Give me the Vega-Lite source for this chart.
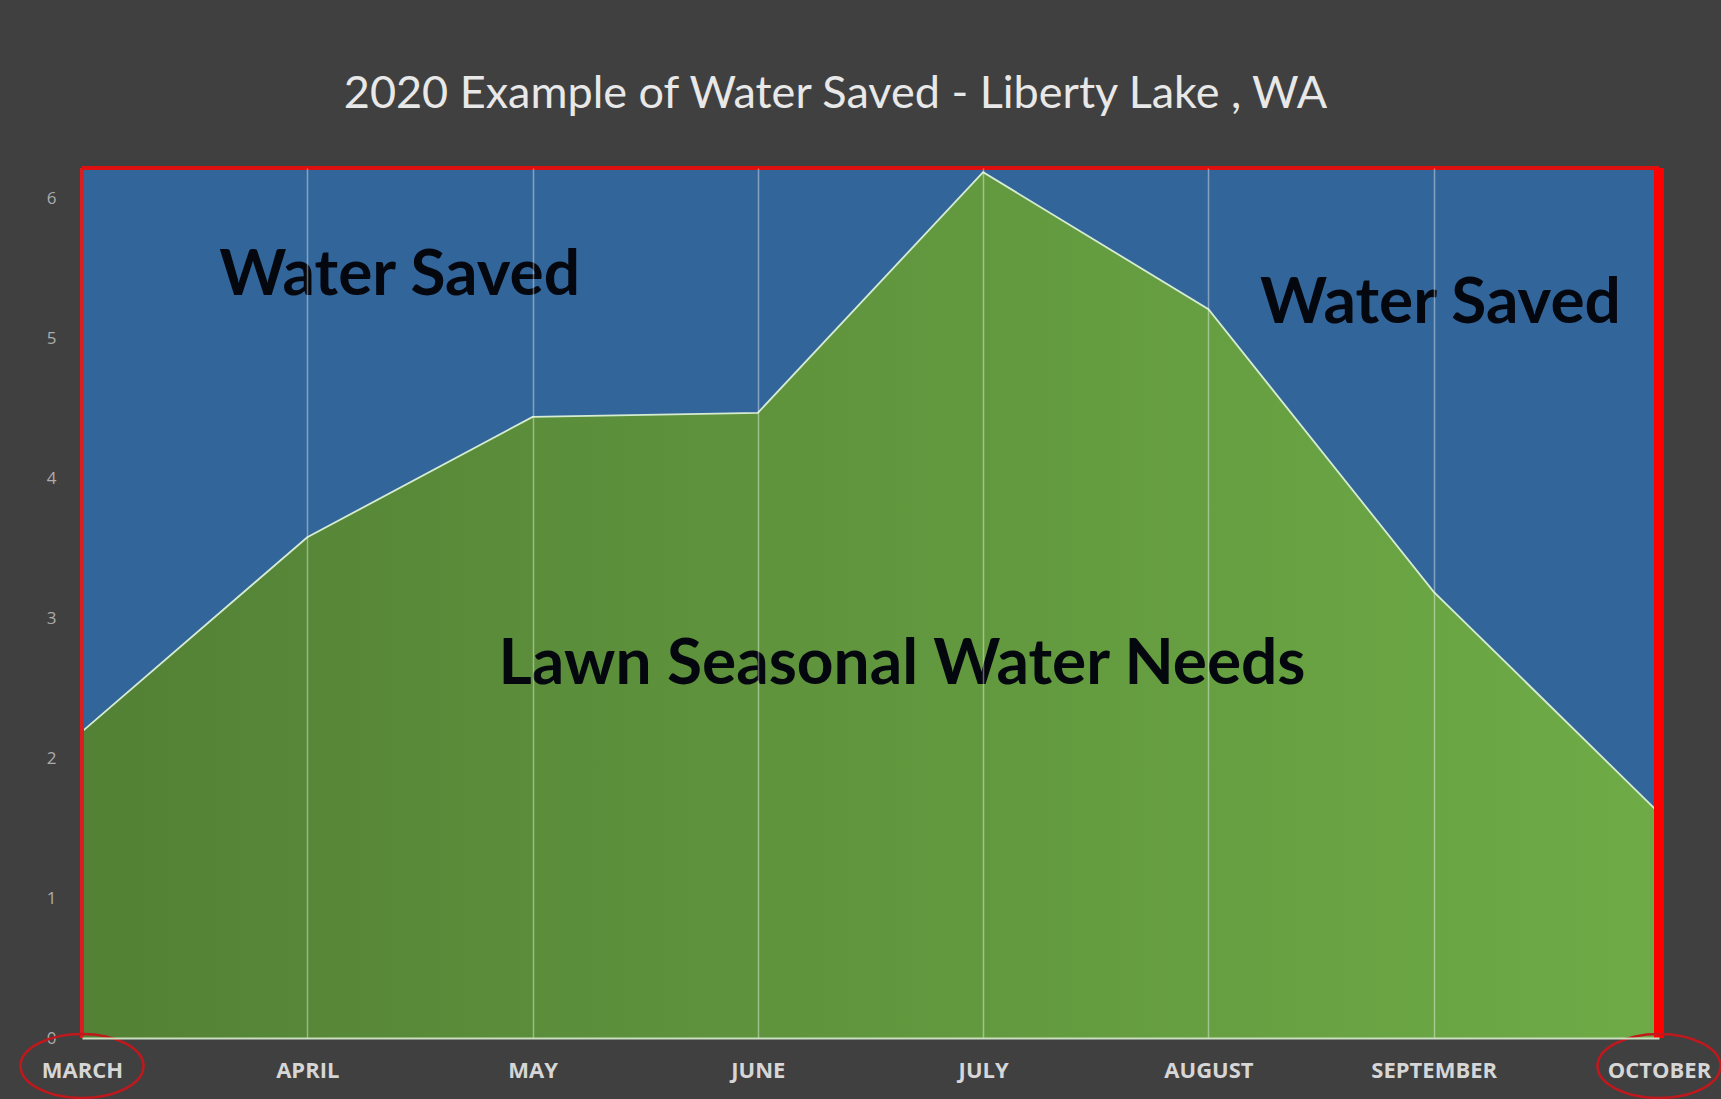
{
  "$schema": "https://vega.github.io/schema/vega-lite/v6.json",
  "autosize": {"type": "none"},
  "width": 1577,
  "height": 870,
  "padding": {"left": 82, "top": 168, "right": 62, "bottom": 61},
  "background": "#404040",
  "view": {"fill": "#32669b", "stroke": null},
  "title": {
    "text": "2020 Example of Water Saved - Liberty Lake , WA",
    "font": "Lato",
    "fontSize": 45,
    "fontWeight": "normal",
    "color": "#e8e8e8",
    "anchor": "middle",
    "frame": "group",
    "dx": -35,
    "offset": 46
  },
  "datasets": {
    "needs": [
      {"idx": 0, "month": "MARCH", "value": 2.19},
      {"idx": 1, "month": "APRIL", "value": 3.58},
      {"idx": 2, "month": "MAY", "value": 4.44},
      {"idx": 3, "month": "JUNE", "value": 4.47},
      {"idx": 4, "month": "JULY", "value": 6.19},
      {"idx": 5, "month": "AUGUST", "value": 5.21},
      {"idx": 6, "month": "SEPTEMBER", "value": 3.19},
      {"idx": 7, "month": "OCTOBER", "value": 1.61}
    ],
    "labels": [
      {"label": "Water Saved", "x": 1.41, "y": 5.45},
      {"label": "Water Saved", "x": 6.03, "y": 5.25},
      {"label": "Lawn Seasonal Water Needs", "x": 3.64, "y": 2.67}
    ],
    "one": [{}]
  },
  "layer": [
    {
      "data": {"name": "needs"},
      "mark": {
        "type": "area",
        "opacity": 1,
        "color": {
          "gradient": "linear",
          "x1": 0, "y1": 0, "x2": 1, "y2": 0,
          "stops": [
            {"offset": 0, "color": "#538135"},
            {"offset": 1, "color": "#6eab46"}
          ]
        },
        "line": {"color": "#d6ecd2", "strokeWidth": 1.8}
      },
      "encoding": {
        "x": {
          "field": "idx",
          "type": "quantitative",
          "scale": {"domain": [0, 7], "nice": false, "zero": false},
          "axis": {
            "title": null,
            "values": [0, 1, 2, 3, 4, 5, 6, 7],
            "labelExpr": "['MARCH','APRIL','MAY','JUNE','JULY','AUGUST','SEPTEMBER','OCTOBER'][datum.value]",
            "grid": true,
            "gridColor": "#ffffff",
            "gridOpacity": {"condition": {"test": "datum.value == 0 || datum.value == 7", "value": 0}, "value": 0.4},
            "gridWidth": 1.5,
            "ticks": false,
            "domain": true,
            "domainColor": "#c9dfc0",
            "domainWidth": 2,
            "labelFont": "Open Sans",
            "labelFontWeight": "bold",
            "labelFontSize": 22,
            "labelColor": "#d6d6d6",
            "labelPadding": 22,
            "labelFlush": false,
            "labelOverlap": false,
            "zindex": 1
          }
        },
        "y": {
          "field": "value",
          "type": "quantitative",
          "scale": {"domain": [0, 6.22], "nice": false},
          "axis": {
            "title": null,
            "values": [0, 1, 2, 3, 4, 5, 6],
            "format": "d",
            "grid": false,
            "ticks": false,
            "domain": false,
            "labelFont": "Open Sans",
            "labelFontSize": 17,
            "labelColor": "#acacac",
            "labelPadding": 26
          }
        }
      }
    },
    {
      "data": {"name": "labels"},
      "mark": {
        "type": "text",
        "font": "Lato",
        "fontWeight": "bold",
        "fontSize": 64,
        "color": "#05070f",
        "align": "center",
        "baseline": "middle"
      },
      "encoding": {
        "x": {"field": "x", "type": "quantitative"},
        "y": {"field": "y", "type": "quantitative"},
        "text": {"field": "label"}
      }
    },
    {
      "data": {"name": "one"},
      "mark": {"type": "rule", "color": "#d81e1e", "strokeWidth": 4},
      "encoding": {
        "x": {"datum": 0, "type": "quantitative"},
        "y": {"datum": 0, "type": "quantitative"},
        "y2": {"datum": 6.22}
      }
    },
    {
      "data": {"name": "one"},
      "mark": {"type": "rule", "color": "#e01010", "strokeWidth": 4},
      "encoding": {
        "x": {"datum": 0, "type": "quantitative"},
        "x2": {"datum": 7},
        "y": {"datum": 6.22, "type": "quantitative"}
      }
    },
    {
      "data": {"name": "one"},
      "mark": {"type": "rule", "color": "#ff0000", "strokeWidth": 10},
      "encoding": {
        "x": {"datum": 7, "type": "quantitative"},
        "y": {"datum": 0, "type": "quantitative"},
        "y2": {"datum": 6.22}
      }
    },
    {
      "data": {"name": "one"},
      "mark": {
        "type": "point",
        "shape": "M -1 0 A 1 0.52 0 1 0 1 0 A 1 0.52 0 1 0 -1 0 Z",
        "filled": false,
        "color": "#c0181c",
        "strokeWidth": 2.5,
        "opacity": 1,
        "size": 15129,
        "clip": false
      },
      "encoding": {
        "x": {"datum": 0, "type": "quantitative"},
        "y": {"datum": -0.2, "type": "quantitative"}
      }
    },
    {
      "data": {"name": "one"},
      "mark": {
        "type": "point",
        "shape": "M -1 0 A 1 0.52 0 1 0 1 0 A 1 0.52 0 1 0 -1 0 Z",
        "filled": false,
        "color": "#c0181c",
        "strokeWidth": 2.5,
        "opacity": 1,
        "size": 15129,
        "clip": false
      },
      "encoding": {
        "x": {"datum": 7, "type": "quantitative"},
        "y": {"datum": -0.2, "type": "quantitative"}
      }
    }
  ]
}
